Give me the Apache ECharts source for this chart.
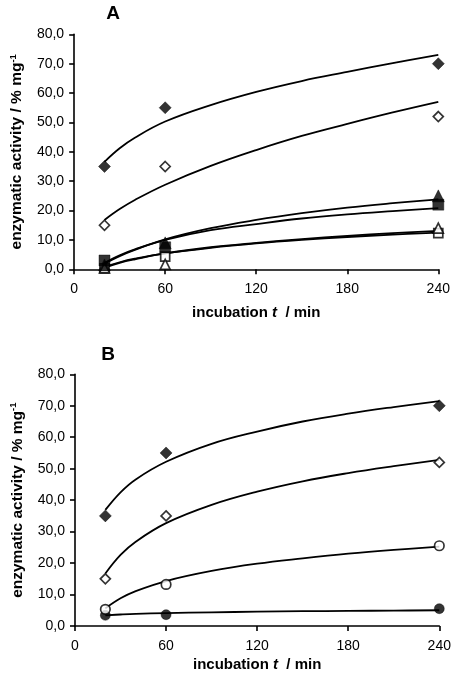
<!DOCTYPE html>
<html><head><meta charset="utf-8">
<script src="https://cdn.jsdelivr.net/npm/echarts@6/dist/echarts.min.js"></script>
<style>html,body{margin:0;padding:0;background:#fff}#c{width:456px;height:677px}</style>
</head><body><div id="c"></div>
<script>
// ---- data ----
const times = [20, 60, 240];
const fitTimes = [20, 30, 40, 60, 90, 120, 150, 180, 210, 240];

// Panel A measured points
const aFilledDiamond = [35, 55, 70];
const aOpenDiamond = [15, 35, 52];
const aFilledTriangle = [1.5, 9.0, 25];
const aFilledSquare = [3.0, 7.5, 22];
const aOpenTriangle = [0.5, 1.7, 14];
const aOpenSquare = [0.3, 4.3, 12.3];

// Panel A trend curves (at fitTimes)
const aFitFilledDiamond = [36.6, 41.2, 44.8, 50.3, 55.9, 60.4, 64.1, 67.2, 70.2, 73.0];
const aFitOpenDiamond = [16.8, 20.5, 23.6, 28.8, 35.2, 40.6, 45.4, 49.5, 53.4, 57.0];
const aFitFilledTriangle = [2.0, 4.5, 6.6, 10.2, 14.0, 16.8, 19.1, 21.0, 22.5, 23.8];
const aFitFilledSquare = [2.2, 4.8, 6.8, 10.0, 13.3, 15.4, 17.3, 18.7, 19.8, 20.8];
const aFitOpenTriangle = [0.5, 2.2, 3.4, 5.4, 7.5, 9.0, 10.3, 11.4, 12.3, 13.1];
const aFitOpenSquare = [0.8, 2.4, 3.6, 5.4, 7.3, 8.8, 10.0, 11.0, 11.8, 12.5];

// Panel B measured points
const bFilledDiamond = [35, 55, 70];
const bOpenDiamond = [15, 35, 52];
const bOpenCircle = [5.3, 13.2, 25.5];
const bFilledCircle = [3.4, 3.6, 5.5];

// Panel B trend curves
const bFitFilledDiamond = [36.9, 42.5, 46.6, 52.2, 57.9, 61.8, 65.0, 67.5, 69.6, 71.5];
const bFitOpenDiamond = [16.7, 22.6, 26.8, 32.7, 38.5, 42.7, 46.0, 48.6, 50.8, 52.8];
const bFitOpenCircle = [5.6, 8.8, 11.1, 14.3, 17.5, 19.8, 21.5, 23.0, 24.2, 25.2];
const bFitFilledCircle = [3.4, 3.65, 3.85, 4.1, 4.35, 4.55, 4.7, 4.8, 4.9, 5.0];

const panelTitles = ['A', 'B'];
const xTitleParts = ['incubation ', 't', '  / min'];
const yTitleParts = ['enzymatic activity / % mg', '-1'];

// ---- chart ----
const FONT = "'Liberation Sans', Arial, sans-serif";
const pair = (xs, ys) => xs.map((x, i) => [x, ys[i]]);

function xAxisCfg(gi, gap) {
  return {
    gridIndex: gi, type: 'value', min: 0, max: 240, interval: 60,
    axisLine: { show: true, onZero: false, lineStyle: { color: '#000', width: 1.6 } },
    axisTick: { show: true, length: 5, lineStyle: { color: '#000', width: 1.6 } },
    axisLabel: { color: '#000', fontSize: 14, fontFamily: FONT, margin: 13 },
    splitLine: { show: false },
    name: '{b|' + xTitleParts[0] + '}{i|' + xTitleParts[1] + '}{b|' + xTitleParts[2] + '}',
    nameLocation: 'middle', nameGap: gap,
    nameTextStyle: {
      rich: {
        b: { fontSize: 15, fontWeight: 'bold', fontFamily: FONT, color: '#000' },
        i: { fontSize: 15, fontWeight: 'bold', fontStyle: 'italic', fontFamily: FONT, color: '#000' }
      }
    }
  };
}
function yAxisCfg(gi, gap) {
  return {
    gridIndex: gi, type: 'value', min: 0, max: 80, interval: 10,
    axisLine: { show: true, onZero: false, lineStyle: { color: '#000', width: 1.6 } },
    axisTick: { show: true, length: 5, lineStyle: { color: '#000', width: 1.6 } },
    axisLabel: { color: '#000', fontSize: 14, fontFamily: FONT, margin: 10,
      formatter: v => v.toFixed(1).replace('.', ',') },
    splitLine: { show: false },
    name: '{n|' + yTitleParts[0] + '}{s|' + yTitleParts[1] + '}',
    nameLocation: 'middle', nameGap: gap,
    nameTextStyle: {
      rich: {
        n: { fontSize: 15.5, fontWeight: 'bold', fontFamily: FONT, color: '#000', lineHeight: 18 },
        s: { fontSize: 9.5, fontWeight: 'bold', fontFamily: FONT, color: '#000', verticalAlign: 'top', lineHeight: 18, padding: [0, 0, 8, 0] }
      }
    }
  };
}
function fit(gi, ys) {
  return { type: 'line', xAxisIndex: gi, yAxisIndex: gi, data: pair(fitTimes, ys),
    smooth: 0.4, showSymbol: false, symbol: 'none', silent: true,
    lineStyle: { color: '#000', width: 1.8 }, z: 2 };
}
function pts(gi, ys, symbol, filled, size) {
  return { type: 'scatter', xAxisIndex: gi, yAxisIndex: gi, data: pair(times, ys),
    symbol: symbol, symbolSize: size,
    itemStyle: filled ? { color: '#000', borderColor: '#000', borderWidth: 0.5 }
                      : { color: '#fff', borderColor: '#000', borderWidth: 1.7 },
    z: 3 };
}

const chart = echarts.init(document.getElementById('c'), null, { renderer: 'canvas' });
chart.setOption({
  backgroundColor: '#fff',
  animation: false,
  grid: [
    { left: 70, top: 34.3, width: 368.3, height: 235, containLabel: false },
    { left: 75, top: 374.3, width: 364.3, height: 251.7, containLabel: false }
  ],
  xAxis: [xAxisCfg(0, 36), xAxisCfg(1, 31)],
  yAxis: [yAxisCfg(0, 44), yAxisCfg(1, 48)],
  graphic: [
    { type: 'text', x: 113, y: 14, style: { text: panelTitles[0], font: 'bold 19px ' + FONT, fill: '#000', align: 'center', verticalAlign: 'middle' } },
    { type: 'text', x: 108, y: 355, style: { text: panelTitles[1], font: 'bold 19px ' + FONT, fill: '#000', align: 'center', verticalAlign: 'middle' } }
  ],
  series: [
    fit(0, aFitFilledDiamond), fit(0, aFitOpenDiamond), fit(0, aFitFilledTriangle),
    fit(0, aFitFilledSquare), fit(0, aFitOpenTriangle), fit(0, aFitOpenSquare),
    pts(0, aOpenSquare, 'rect', false, 9),
    pts(0, aOpenTriangle, 'triangle', false, 10),
    pts(0, aFilledSquare, 'rect', true, 11),
    pts(0, aFilledTriangle, 'triangle', true, 12),
    pts(0, aOpenDiamond, 'diamond', false, 10),
    pts(0, aFilledDiamond, 'diamond', true, 12),

    fit(1, bFitFilledDiamond), fit(1, bFitOpenDiamond), fit(1, bFitOpenCircle), fit(1, bFitFilledCircle),
    pts(1, bFilledCircle, 'circle', true, 10),
    pts(1, bOpenCircle, 'circle', false, 9.5),
    pts(1, bOpenDiamond, 'diamond', false, 10),
    pts(1, bFilledDiamond, 'diamond', true, 12)
  ]
});
</script></body></html>
